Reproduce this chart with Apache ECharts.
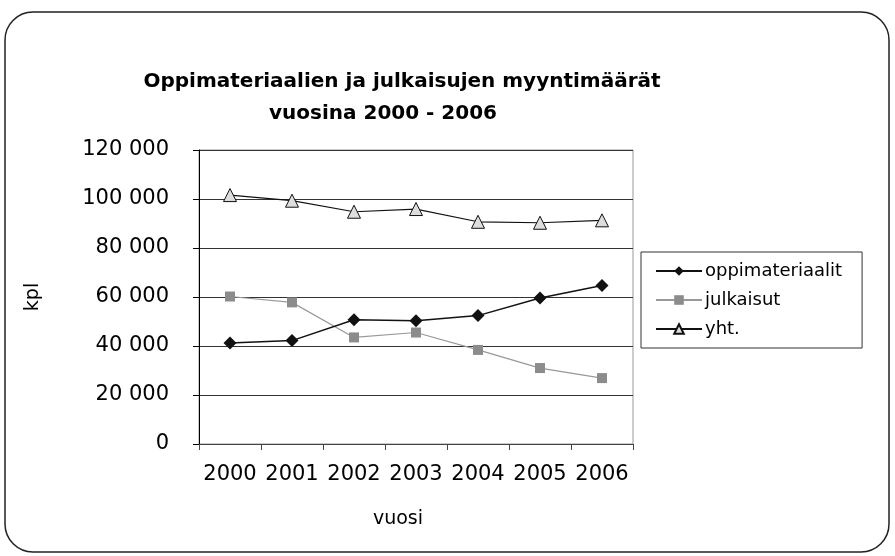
<!DOCTYPE html>
<html>
<head>
<meta charset="utf-8">
<script src="https://cdn.jsdelivr.net/npm/echarts@6/dist/echarts.min.js"></script>
<style>
  html, body { margin: 0; padding: 0; background: #fff; }
  #main { width: 895px; height: 556px; }
</style>
</head>
<body>
<div id="main"></div>
<script>
// vuodet ja myyntimäärät (kpl)
var years = ['2000', '2001', '2002', '2003', '2004', '2005', '2006'];
var oppimateriaalit = [41200, 42200, 50700, 50300, 52400, 59600, 64700];
var julkaisut = [60200, 57800, 43500, 45500, 38400, 31000, 26900];
var yht = [101600, 99300, 94800, 95900, 90700, 90300, 91300];
var yTicks = [0, 20000, 40000, 60000, 80000, 100000, 120000];

var font = 'DejaVu Sans';

function fmt(v) {
  // 120000 -> "120 000"
  return String(v).replace(/\B(?=(\d{3})+(?!\d))/g, ' ');
}

var myChart = echarts.init(document.getElementById('main'));

var option = {
  backgroundColor: '#fff',
  textStyle: { fontFamily: font, color: '#000' },
  graphic: [{
    type: 'rect',
    shape: { x: 5, y: 12, width: 884, height: 540, r: 28 },
    style: { fill: 'none', stroke: '#222', lineWidth: 1.5 },
    z: -1
  }],
  title: [{
    text: 'Oppimateriaalien ja julkaisujen myyntimäärät',
    left: 397, top: 67, textAlign: 'center',
    textStyle: { fontFamily: font, fontSize: 20, fontWeight: 'bold', color: '#000' }
  }, {
    text: 'vuosina 2000 - 2006',
    left: 378, top: 99, textAlign: 'center',
    textStyle: { fontFamily: font, fontSize: 20, fontWeight: 'bold', color: '#000' }
  }],
  legend: {
    orient: 'vertical',
    left: 641, top: 252,
    padding: [10, 20, 10, 14],
    itemGap: 11,
    itemWidth: 46,
    itemHeight: 12,
    borderColor: '#333',
    borderWidth: 1,
    textStyle: { fontFamily: font, fontSize: 18, color: '#000', padding: [0, 0, 0, -2] },
    data: ['oppimateriaalit', 'julkaisut', 'yht.']
  },
  grid: {
    left: 199, right: 262, top: 150, bottom: 112,
    show: true, borderColor: '#999', borderWidth: 1
  },
  xAxis: {
    type: 'category',
    data: years,
    boundaryGap: true,
    name: 'vuosi',
    nameLocation: 'middle',
    nameGap: 66,
    nameTextStyle: { fontFamily: font, fontSize: 19, color: '#000', padding: [0, 36, 0, 0] },
    axisLine: { lineStyle: { color: '#444', width: 1 } },
    axisTick: { show: true, interval: 0, length: 6, inside: false, lineStyle: { color: '#444' } },
    axisLabel: { interval: 0, fontFamily: font, fontSize: 21, color: '#000', margin: 20 },
    splitLine: { show: false }
  },
  yAxis: {
    type: 'value',
    min: 0, max: 120000, interval: 20000,
    name: 'kpl',
    nameLocation: 'middle',
    nameGap: 156,
    nameRotate: 90,
    nameTextStyle: { fontFamily: font, fontSize: 19, color: '#000' },
    axisLine: { show: true, lineStyle: { color: '#000', width: 1 } },
    axisTick: { show: true, length: 6, lineStyle: { color: '#000' } },
    axisLabel: {
      fontFamily: font, fontSize: 21, color: '#000', margin: 30,
      formatter: function (v) { return yTicks.indexOf(v) >= 0 ? fmt(v) : ''; }
    },
    splitLine: { show: true, lineStyle: { color: '#333', width: 1 } }
  },
  series: [{
    name: 'oppimateriaalit',
    type: 'line',
    data: oppimateriaalit,
    symbol: 'diamond',
    symbolSize: 13,
    itemStyle: { color: '#111' },
    lineStyle: { color: '#111', width: 1.5 },
    z: 3
  }, {
    name: 'julkaisut',
    type: 'line',
    data: julkaisut,
    symbol: 'rect',
    symbolSize: 10,
    itemStyle: { color: '#8c8c8c' },
    lineStyle: { color: '#999', width: 1.2 },
    z: 2
  }, {
    name: 'yht.',
    type: 'line',
    data: yht,
    symbol: 'triangle',
    symbolSize: 13,
    itemStyle: { color: '#ddd', borderColor: '#111', borderWidth: 1 },
    lineStyle: { color: '#111', width: 1.2 },
    z: 3
  }],
  animation: false
};

myChart.setOption(option);
</script>
</body>
</html>
